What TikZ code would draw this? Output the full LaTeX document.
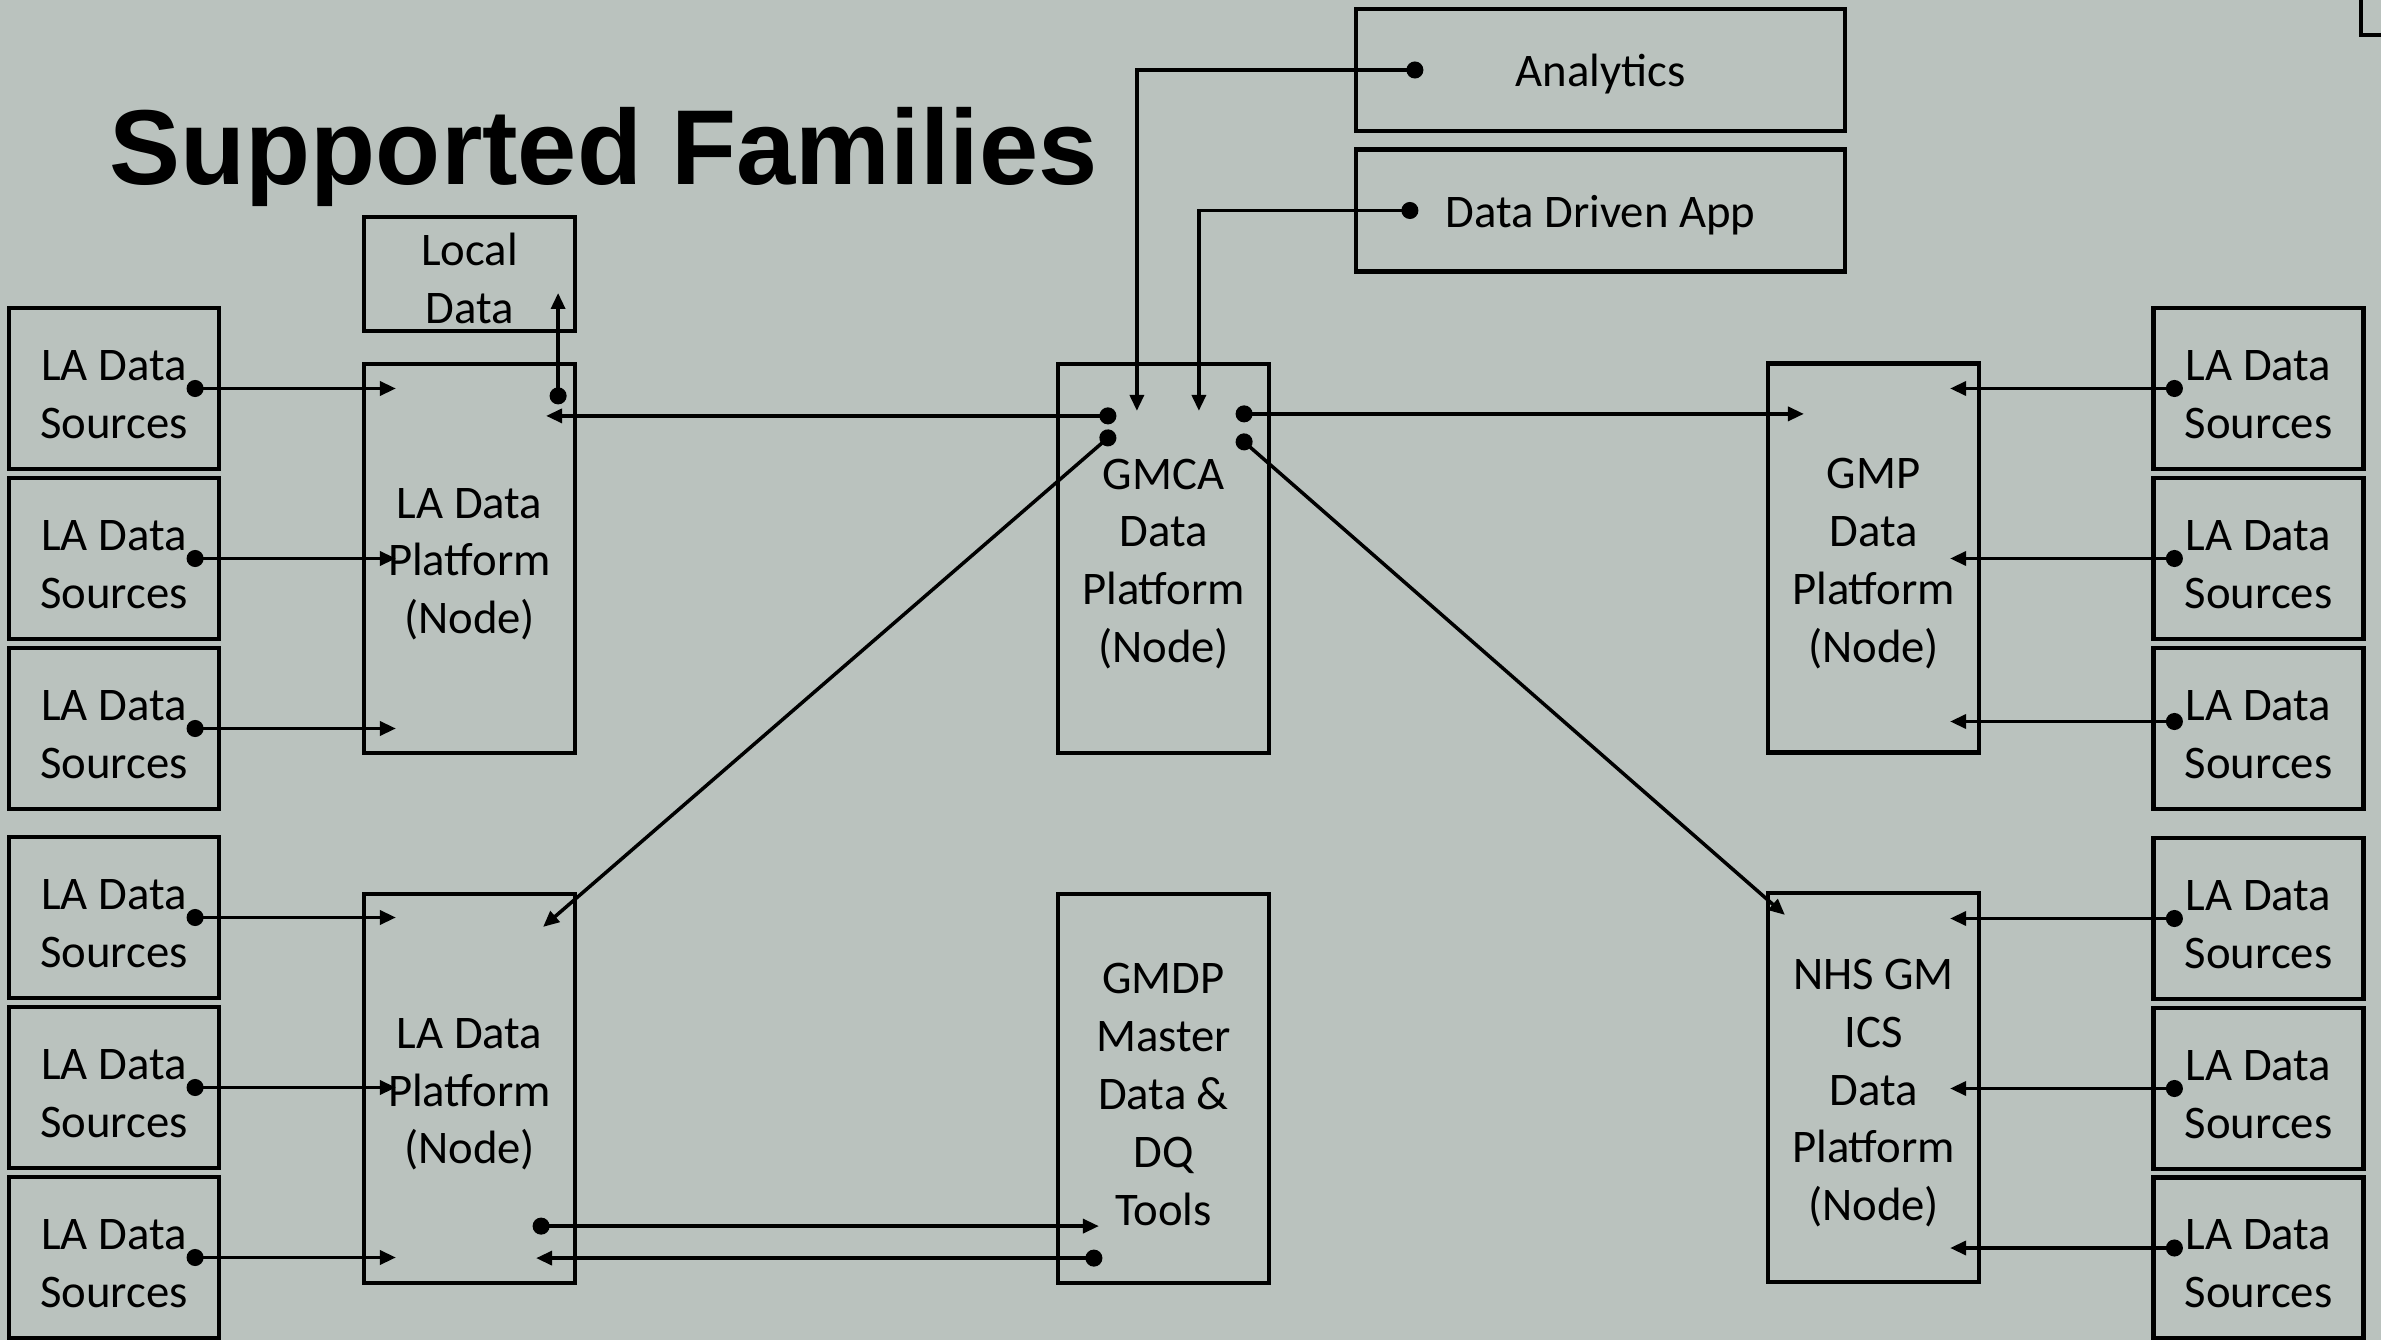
\documentclass[tikz,border=0pt]{standalone}
\usepackage{fontspec}
\setmainfont{Carlito}
\newfontfamily\titlefont{Liberation Sans}
\usetikzlibrary{arrows.meta}
\definecolor{slidebg}{RGB}{186,194,190}
\newcommand\toppad{\rule{0pt}{11.8pt}}

\begin{document}
\begin{tikzpicture}[box/.style={draw, line width=1.2pt, inner sep=0pt, align=center, font=\fontsize{13.3}{16.5}\selectfont},
        src/.style={box, minimum width=2.1cm, minimum height=1.61cm},
        plat/.style={box, minimum width=2.11cm, minimum height=3.89cm},
        app/.style={box, minimum width=4.89cm, minimum height=1.22cm},
        link/.style={line width=1pt, {Circle[length=1.7mm]}-{Triangle[length=1.6mm,width=1.4mm]}, shorten <=-0.85mm}]
            \path[use as bounding box, fill=slidebg] (0,0) rectangle (23.81,-13.40);
            \node[anchor=base west, inner sep=0pt, font=\titlefont\bfseries\fontsize{30.3}{36}\selectfont] (title) at (1.09,-1.85) {Supported Families};
            \foreach \n/\y in {s1/3.885, s2/5.585, s3/7.285, s4/9.175, s5/10.875, s6/12.575}
                \node[src] (\n) at (1.14,-\y) {\toppad LA Data\\Sources};
            \foreach \n/\y in {r1/3.885, r2/5.585, r3/7.285, r4/9.185, r5/10.885, r6/12.58}
                \node[src] (\n) at (22.585,-\y) {\toppad LA Data\\Sources};
            \node[plat] (lp1) at (4.695,-5.585) {\toppad LA Data\\Platform\\(Node)};
            \node[plat] (lp2) at (4.695,-10.885) {\toppad LA Data\\Platform\\(Node)};
            \node[plat] (gmca) at (11.635,-5.585) {\toppad GMCA\\Data\\Platform\\(Node)};
            \node[plat] (gmdp) at (11.635,-10.885) {\toppad GMDP\\Master\\Data \&\\DQ\\Tools};
            \node[plat] (gmp) at (18.735,-5.58) {\toppad GMP\\Data\\Platform\\(Node)};
            \node[plat] (nhs) at (18.735,-10.875) {\toppad NHS GM\\ICS\\Data\\Platform\\(Node)};
            \node[box, minimum width=2.11cm, minimum height=1.14cm] (local) at (4.695,-2.74) {\toppad Local\\Data};
            \node[app] (ana) at (16.005,-0.70) {\toppad Analytics};
            \node[app] (dda) at (16.005,-2.105) {\toppad Data Driven App};
            \node[box, minimum width=1cm, minimum height=1cm, anchor=south west] (edge) at (23.59,-0.37) {};
            \foreach \s/\p in {s1/lp1, s2/lp1, s3/lp1, s4/lp2, s5/lp2, s6/lp2}
                \draw[link] ([xshift=-2.6mm]\s.east) -- ([xshift=3.4mm]\p.west |- \s);
            \foreach \s/\p/\dy in {r1/gmp/0, r2/gmp/0, r3/gmp/0.7, r4/nhs/0, r5/nhs/0, r6/nhs/1}
                \draw[link] ([xshift=2.3mm,yshift=\dy mm]\s.west) -- ([xshift=-3.1mm,yshift=\dy mm]\p.east |- \s);
            \coordinate (gl1) at ([xshift=5.2mm,yshift=-5.4mm]gmca.north west);
            \coordinate (gl2) at ([xshift=5.2mm,yshift=-7.6mm]gmca.north west);
            \coordinate (gr1) at ([xshift=-2.7mm,yshift=-5.2mm]gmca.north east);
            \coordinate (gr2) at ([xshift=-2.7mm,yshift=-8.0mm]gmca.north east);
            \coordinate (lu) at ([xshift=-1.9mm,yshift=-3.4mm]lp1.north east);
            \draw[link] (gl1) -- ([xshift=-3.1mm]lp1.east |- gl1);
            \draw[link] (gl2) -- ([xshift=-3.4mm,yshift=-3.5mm]lp2.north east);
            \draw[link] (gr1) -- ([xshift=3.8mm]gmp.west |- gr1);
            \draw[link] (gr2) -- ([xshift=1.9mm,yshift=-2.4mm]nhs.north west);
            \draw[link] (lu) -- ([yshift=-1.9mm]lu |- local);
            \draw[link] ([xshift=6.1mm]ana.west) -| ([xshift=8.1mm,yshift=-4.9mm]gmca.north west);
            \draw[link] ([xshift=5.6mm]dda.west) -| ([xshift=14.3mm,yshift=-4.9mm]gmca.north west);
            \draw[link] ([xshift=-3.6mm,yshift=5.9mm]lp2.south east) -- ([xshift=4.3mm,yshift=5.9mm]gmdp.south west);
            \draw[link] ([xshift=3.8mm,yshift=2.7mm]gmdp.south west) -- ([xshift=-4.1mm,yshift=2.7mm]lp2.south east);
        \end{tikzpicture}
\end{document}
